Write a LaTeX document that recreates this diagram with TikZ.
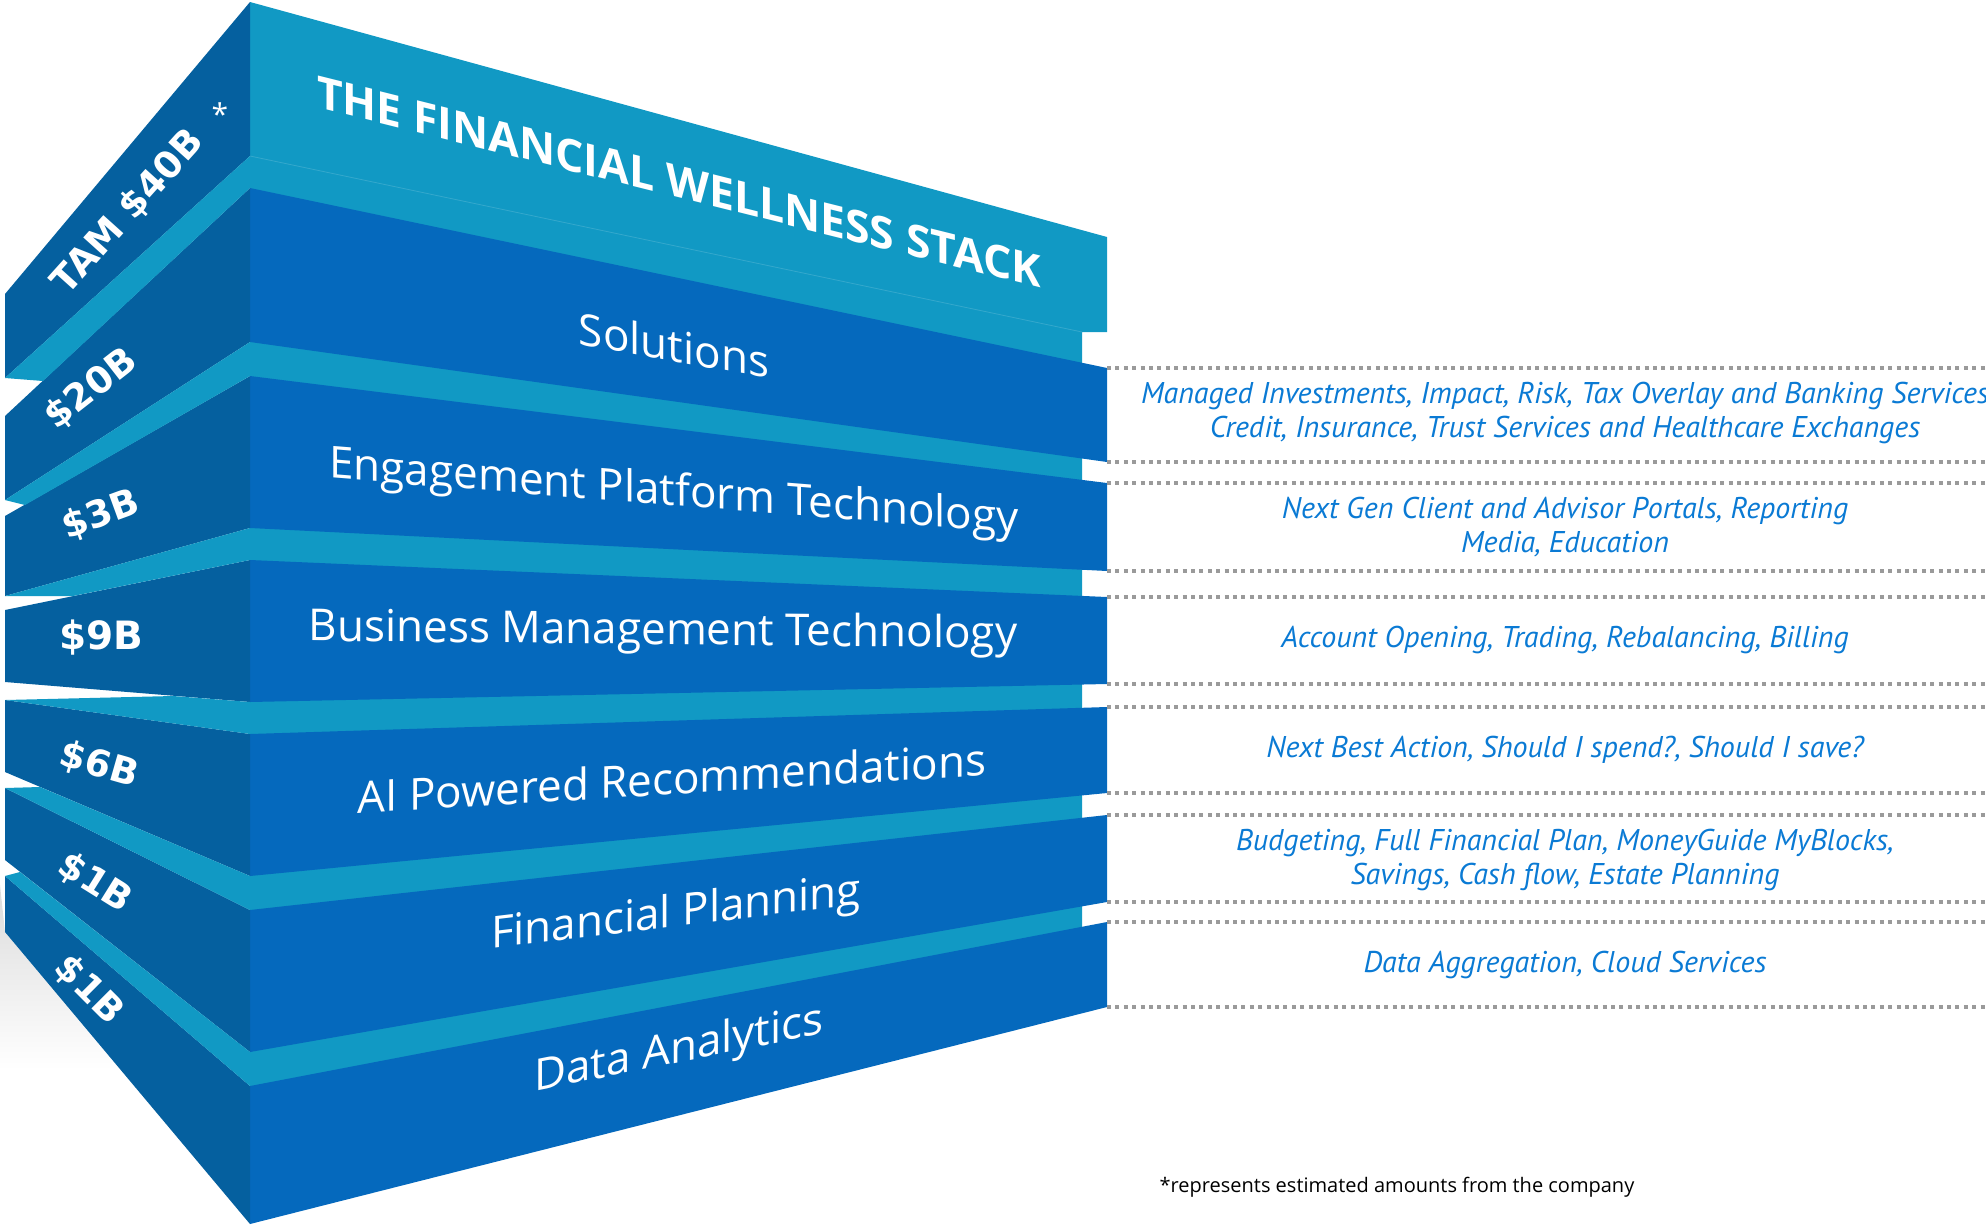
\documentclass[tikz,border=0pt]{standalone}
\usepackage{fontspec}
\setmainfont{Open Sans}
\newfontfamily\amountfont{DejaVu Sans}
\newfontfamily\notefont{PT Sans}
\usepackage{tikz}
\usetikzlibrary{calc}

\definecolor{frontblue}{HTML}{0569BD}
\definecolor{sideblue}{HTML}{05609F}
\definecolor{bandteal}{HTML}{1199C4}
\definecolor{notetext}{HTML}{0A7AD4}
\definecolor{dotgray}{HTML}{9A9A9A}

\begin{document}
\begin{tikzpicture}[x=1pt,y=-1pt,
	front/.style={fill=frontblue},
	side/.style={fill=sideblue},
	band/.style={fill=bandteal},
	layer/.style={text=white,font=\fontsize{44}{44}\selectfont},
	amount/.style={text=white,inner sep=1pt,font=\amountfont\bfseries\fontsize{37}{37}\selectfont},
	note/.style={text=notetext,align=center,font=\notefont\itshape\fontsize{30}{34}\selectfont},
	dots/.style={dotgray,line width=3.3pt,dash pattern=on 4pt off 4.4pt}]
	\useasboundingbox (0,0) rectangle (1986,1224);
	\coordinate (edge) at (1986,0);

	% shadow under the bottom block
	\shade[top color=black!14,bottom color=white] (0,885) -- (5,932) -- (120,1070) -- (0,1070) -- cycle;

	% front: teal behind, blue layers on top
	\fill[band] (250,2) -- (1107,237) -- (1107,332) -- (1082,332) -- (1082,960) -- (250,1150) -- cycle;
	\draw[white,opacity=.15,line width=.8pt] (250,156) -- (1082,332);
	\foreach \ct/\cb/\rt/\rb [count=\i] in {188/342/368/462, 376/528/483/571, 560/702/597/684,
		734/876/707/793, 910/1052/815/902, 1086/1224/922/1007}{
		\fill[front] (250,\ct) -- (1107,\rt) -- (1107,\rb) -- (250,\cb) -- cycle;
		\coordinate (top\i) at (1107,\rt);
		\coordinate (bot\i) at (1107,\rb);
	}

	% left side of the stack
	\foreach \tl/\tc/\bc/\bl in {294/2/156/378, 416/188/342/500, 516/376/528/596, 610/560/702/682,
		700/734/876/772, 788/910/1052/860, 876/1086/1224/932}
		\fill[side] (5,\tl) -- (250,\tc) -- (250,\bc) -- (5,\bl) -- cycle;
	\foreach \ux/\uy/\ct/\cb/\lx/\ly in {5/378/156/188/43/381, 5/500/342/376/25/505, 5/596/528/560/73/596,
		173/696/702/734/5/700, 40/787/876/910/5/788, 20/872/1052/1086/5/876}
		\fill[band] (\ux,\uy) -- (250,\ct) -- (250,\cb) -- (\lx,\ly) -- cycle;

	% layer names
	\node[layer,font=\bfseries\fontsize{44.5}{44.5}\selectfont,yslant=-.25] (title) at (679,182) {THE FINANCIAL WELLNESS STACK};
	\node[layer,yslant=-.18] (solutions) at (674,345) {Solutions};
	\node[layer,yslant=-.08] (engage) at (674,494) {Engagement Platform Technology};
	\node[layer,yslant=-.01] (business) at (663,633) {Business Management Technology};
	\node[layer,yslant=.06] (ai) at (672,778) {AI Powered Recommendations};
	\node[layer,yslant=.12] (planning) at (676,915) {Financial Planning};
	\node[layer,yslant=.2] (data) at (679,1051) {Data Analytics};

	% market sizes
	\node[amount,rotate=48] (tam) at (128,212) {TAM \$40B};
	\node[text=white,font=\fontsize{30}{30}\selectfont] (star) at (220,114) {*};
	\node[amount,rotate=38] (s20) at (91,389) {\$20B};
	\node[amount,rotate=20] (s3) at (101,515) {\$3B};
	\node[amount,font=\amountfont\bfseries\fontsize{39}{39}\selectfont] (s9) at (101,638) {\$9B};
	\node[amount,rotate=-16] (s6) at (99,765) {\$6B};
	\node[amount,rotate=-32] (s1) at (95,883) {\$1B};
	\node[amount,rotate=-45] (s1b) at (89,990) {\$1B};

	% dotted guides and notes
	\foreach \i in {1,...,6}{
		\draw[dots] (top\i) -- (top\i -| edge);
		\draw[dots] (bot\i) -- (bot\i -| edge);
	}
	\node[note] (n1) at (1565,413) {Managed Investments, Impact, Risk, Tax Overlay and Banking Services\\Credit, Insurance, Trust Services and Healthcare Exchanges};
	\node[note] (n2) at (1565,527) {Next Gen Client and Advisor Portals, Reporting\\Media, Education};
	\node[note] (n3) at (1565,640) {Account Opening, Trading, Rebalancing, Billing};
	\node[note] (n4) at (1565,750) {Next Best Action, Should I spend?, Should I save?};
	\node[note] (n5) at (1565,860) {Budgeting, Full Financial Plan, MoneyGuide MyBlocks,\\Savings, Cash flow, Estate Planning};
	\node[note] (n6) at (1565,965) {Data Aggregation, Cloud Services};

	\node[font=\fontsize{20}{20}\selectfont] (foot) at (1397,1187) {*represents estimated amounts from the company};
\end{tikzpicture}
\end{document}
